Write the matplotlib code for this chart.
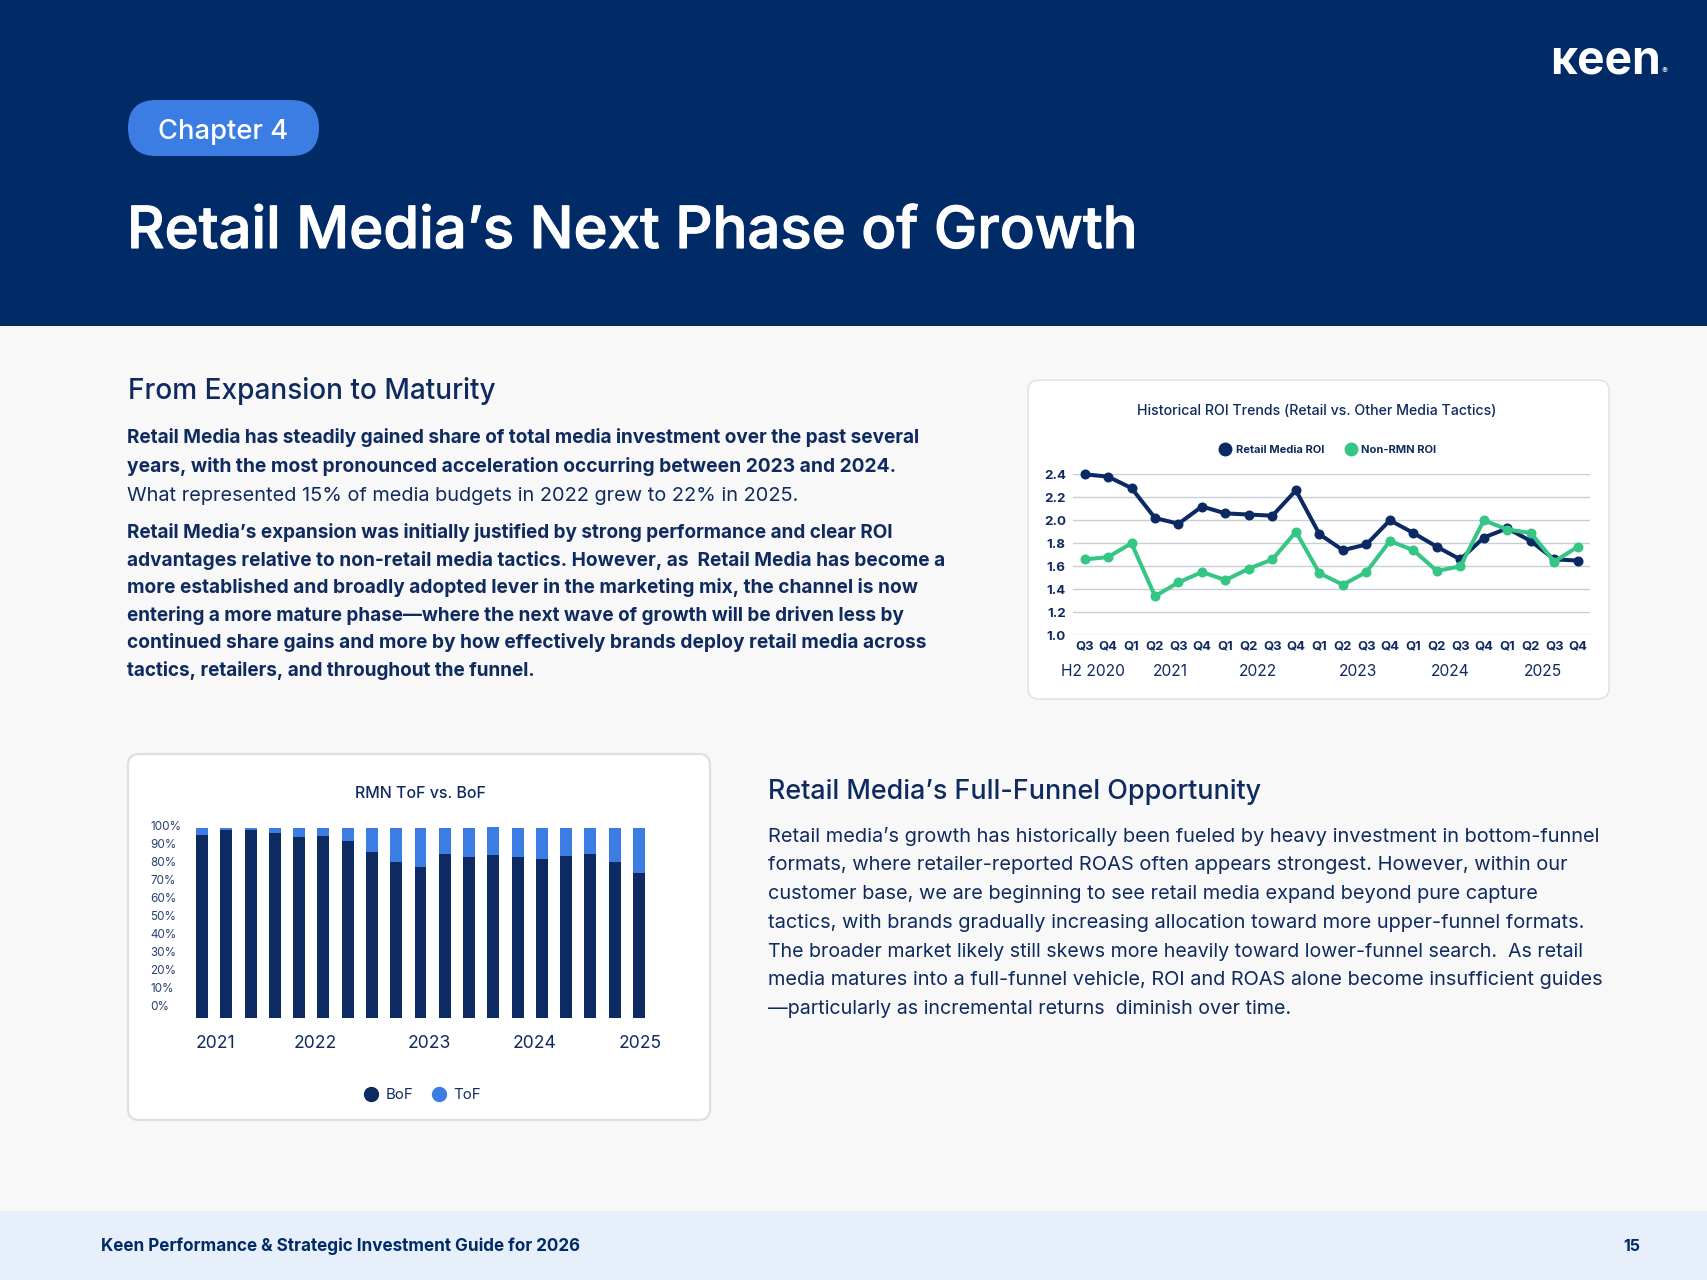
import matplotlib
matplotlib.use("Agg")
import matplotlib.pyplot as plt
import matplotlib.patheffects as pe
from matplotlib.patches import FancyBboxPatch, Rectangle
from matplotlib.lines import Line2D
from matplotlib.transforms import Affine2D

W, H = 1707, 1280
FONT = "Inter"
plt.rcParams["font.family"] = [FONT, "DejaVu Sans"]

quarters = ["Q3","Q4","Q1","Q2","Q3","Q4","Q1","Q2","Q3","Q4","Q1","Q2","Q3","Q4","Q1","Q2","Q3","Q4","Q1","Q2","Q3","Q4"]
retail_roi = [2.40,2.38,2.28,2.02,1.97,2.12,2.06,2.05,2.04,2.26,1.88,1.74,1.79,2.00,1.89,1.77,1.66,1.85,1.93,1.82,1.66,1.65]
non_rmn_roi = [1.66,1.68,1.80,1.34,1.46,1.55,1.48,1.58,1.66,1.90,1.54,1.44,1.55,1.82,1.74,1.56,1.60,2.00,1.92,1.89,1.64,1.77]
roi_years = ["H2 2020","2021","2022","2023","2024","2025"]
roi_ticks = [1.0,1.2,1.4,1.6,1.8,2.0,2.2,2.4]

bof = [96.3,98.9,98.9,97.4,95.3,95.8,93.2,87.4,82.1,79.5,86.3,84.7,85.8,84.7,83.7,85.3,86.3,82.1,76.3]
tof = [3.7,1.1,1.1,2.6,4.7,4.2,6.8,12.6,17.9,20.5,13.7,15.3,14.7,15.3,16.3,14.7,13.7,17.9,23.7]
bar_years = ["2021","2022","2023","2024","2025"]

NAVY_BG = "#002B67"; INK = "#0F2A5F"; LINE_NAVY = "#0B2A63"; GREEN = "#35C585"; BLUE = "#3B7DE3"

fig = plt.figure(figsize=(W/100, H/100), dpi=100, facecolor="#F8F8F8")
PX = Affine2D().scale(1/W, -1/H).translate(0, 1) + fig.transFigure
rend = fig.canvas.get_renderer()

def band(x0, y0, x1, y1, c):
    fig.add_artist(Rectangle((x0, y0), x1-x0, y1-y0, transform=PX, fc=c, ec="none", zorder=-5))

def card(x0, y0, x1, y1, lw):
    fig.add_artist(FancyBboxPatch((x0, y0), x1-x0, y1-y0, boxstyle="round,pad=0,rounding_size=11",
                                  transform=PX, fc="white", ec="#DEDFE2", lw=lw, zorder=-4))

def line(s, x0, x1, base, size=20, weight=400, color=INK, family=None):
    t = fig.text(x0, base, s, transform=PX, fontsize=size, fontweight=weight, color=color,
                 va="baseline", ha="left", family=family or [FONT, "DejaVu Sans"])
    t.set_fontsize(size * (x1-x0) / t.get_window_extent(rend).width)
    return t

def ax_px(x0, y0, x1, y1):
    return fig.add_axes([x0/W, 1-y1/H, (x1-x0)/W, (y1-y0)/H])

band(0, 0, W, 326, NAVY_BG)
band(0, 1211, W, H, "#E6EFFA")

# header
fig.add_artist(FancyBboxPatch((128, 100), 191, 56, boxstyle="round,pad=0,rounding_size=28",
                              transform=PX, fc=BLUE, ec="none", zorder=-3))
line("Chapter 4", 158, 288, 139, 22, 500, "white")
title = line("Retail Media\u2019s Next Phase of Growth", 127, 1137, 248, 44, 500, "white")
title.set_path_effects([pe.withStroke(linewidth=0.8, foreground="white")])
line("\u0138een", 1550, 1661, 73, 40, 700, "white", family=[FONT, "DejaVu Sans"])
line("\u00ae", 1661, 1667, 73, 5, 400, "white")

# left text
line("From Expansion to Maturity", 128, 496, 399, 20, 500)
bold1 = [("Retail Media has steadily gained share of total media investment over the past several", 922, 443),
         ("years, with the most pronounced acceleration occurring between 2023 and 2024.", 896, 472)]
for s, x1, b in bold1:
    line(s, 127, x1, b, 15, 700)
line("What represented 15% of media budgets in 2022 grew to 22% in 2025.", 127, 800, 501, 14, 400)
bold2 = [("Retail Media\u2019s expansion was initially justified by strong performance and clear ROI", 895.5, 538),
         ("advantages relative to non-retail media tactics. However, as  Retail Media has become a", 945, 566),
         ("more established and broadly adopted lever in the marketing mix, the channel is now", 916, 593),
         ("entering a more mature phase\u2014where the next wave of growth will be driven less by", 905, 621),
         ("continued share gains and more by how effectively brands deploy retail media across", 925, 648),
         ("tactics, retailers, and throughout the funnel.", 536, 676)]
for s, x1, b in bold2:
    line(s, 127, x1, b, 15, 700)

# right text
line("Retail Media\u2019s Full-Funnel Opportunity", 768, 1260, 799, 20, 500)
body = [("Retail media\u2019s growth has historically been fueled by heavy investment in bottom-funnel", 1601, 842),
        ("formats, where retailer-reported ROAS often appears strongest. However, within our", 1571, 870),
        ("customer base, we are beginning to see retail media expand beyond pure capture", 1541, 899),
        ("tactics, with brands gradually increasing allocation toward more upper-funnel formats.", 1589, 928),
        ("The broader market likely still skews more heavily toward lower-funnel search.  As retail", 1585, 957),
        ("media matures into a full-funnel vehicle, ROI and ROAS alone become insufficient guides", 1606, 985),
        ("\u2014particularly as incremental returns  diminish over time.", 1292, 1014)]
for s, x1, b in body:
    line(s, 768, x1, b, 14, 400)

# footer
line("Keen Performance & Strategic Investment Guide for 2026", 101, 582, 1251, 14, 700, "#002B67")
line("15", 1623, 1640, 1251, 13, 700, "#002B67")

# ---------- line chart
card(1028, 380, 1609, 699, 1.0)
line("Historical ROI Trends (Retail vs. Other Media Tactics)", 1137, 1497, 415, 12, 500)
ax = ax_px(1072.8, 474.3, 1589.5, 635.3)
ax.set_facecolor("none")
x = list(range(len(quarters)))
ax.plot(x, retail_roi, color=LINE_NAVY, lw=2.9, marker="o", ms=6.2, clip_on=False, zorder=3, label="Retail Media ROI")
ax.plot(x, non_rmn_roi, color=GREEN, lw=2.9, marker="o", ms=6.2, clip_on=False, zorder=4, label="Non-RMN ROI")
ax.set_xlim(-0.5, 21.5); ax.set_ylim(1.0, 2.4)
ax.set_yticks(roi_ticks, [f"{v:.1f}" for v in roi_ticks])
ax.set_xticks(x, quarters)
ax.set_xticks([0.37, 3.65, 7.38, 11.66, 15.59, 19.52], roi_years, minor=True)
ax.tick_params(axis="x", which="major", length=0, pad=4, labelsize=9.4, labelcolor=INK)
ax.tick_params(axis="x", which="minor", length=0, pad=20.5, labelsize=11.2, labelcolor=INK)
ax.tick_params(axis="y", length=0, pad=5, labelsize=9.6, labelcolor=INK)
for lab in ax.get_xticklabels() + ax.get_yticklabels():
    lab.set_fontweight(700)
ax.grid(axis="y", color="#C9CED6", lw=1.0)
ax.set_axisbelow(True)
for s in ax.spines.values():
    s.set_visible(False)
hl = [Line2D([], [], ls="none", marker="o", ms=9, color=LINE_NAVY), Line2D([], [], ls="none", marker="o", ms=9, color=GREEN)]
fig.legend(hl, ["Retail Media ROI", "Non-RMN ROI"], loc="center", bbox_to_anchor=(1328.5/W, 1-450/H), ncol=2, frameon=False,
           labelcolor=INK, handlelength=0.8, handletextpad=0.55, columnspacing=2.0,
           prop={"family": [FONT, "DejaVu Sans"], "weight": 700, "size": 8.0})

# ---------- bar chart
card(128, 754, 710, 1120, 1.6)
line("RMN ToF vs. BoF", 355, 486, 798, 12, 500)
axb = ax_px(177.8, 828, 663.2, 1018)
axb.set_facecolor("none")
xb = list(range(len(bof)))
axb.bar(xb, bof, width=0.494, color="#0E2A63", clip_on=False, label="BoF")
axb.bar(xb, tof, bottom=bof, width=0.494, color=BLUE, clip_on=False, label="ToF")
axb.set_xlim(-1, 19); axb.set_ylim(0, 100)
axb.set_yticks([])
axb.set_xticks([0.54, 4.67, 9.38, 13.7, 18.05], bar_years)
axb.tick_params(axis="x", length=0, pad=12.5, labelsize=12.6, labelcolor=INK)
for s in axb.spines.values():
    s.set_visible(False)
axl = ax_px(148, 826, 150.6, 1006)
axl.set_facecolor("none")
axl.set_ylim(0, 100); axl.set_xticks([])
axl.yaxis.tick_right()
axl.set_yticks(range(0, 101, 10), [f"{v}%" for v in range(0, 101, 10)])
axl.tick_params(axis="y", length=0, pad=0, labelsize=8.4, labelcolor="#2A4170")
for s in axl.spines.values():
    s.set_visible(False)
hb = [Line2D([], [], ls="none", marker="o", ms=10, color="#0E2A63"), Line2D([], [], ls="none", marker="o", ms=10, color=BLUE)]
fig.legend(hb, ["BoF", "ToF"], loc="center", bbox_to_anchor=(423/W, 1-1095/H), ncol=2, frameon=False,
           labelcolor=INK, handlelength=0.8, handletextpad=0.55, columnspacing=1.35,
           prop={"family": [FONT, "DejaVu Sans"], "size": 10.8})

fig.savefig("out.png", dpi=100, facecolor=fig.get_facecolor())
